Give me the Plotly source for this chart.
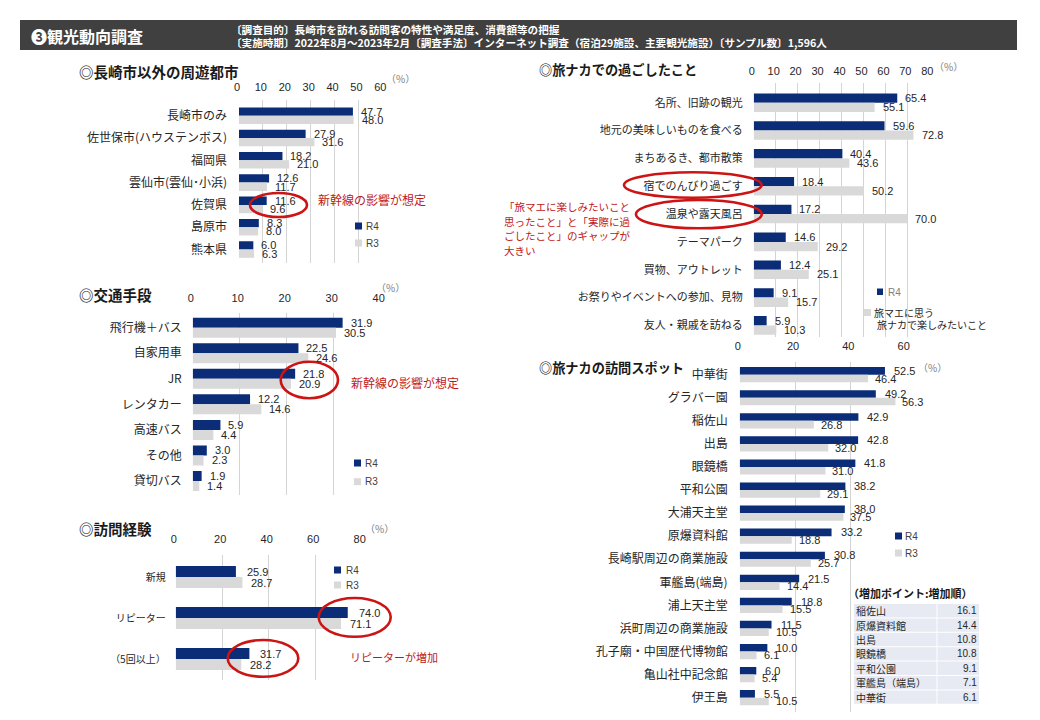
import plotly.graph_objects as go

W, H = 1040, 720
NAVY = "#0B2D78"
GREY = "#D9D9D9"
RED = "#C01818"
TEXT = "#262626"
JP = "Noto Sans CJK JP"
NUM = "Liberation Sans"

# --- data ---
cities = ["長崎市のみ", "佐世保市(ハウステンボス)", "福岡県", "雲仙市(雲仙･小浜)", "佐賀県", "島原市", "熊本県"]
cities_r4 = [47.7, 27.9, 18.2, 12.6, 11.6, 8.3, 6.0]
cities_r3 = [48.0, 31.6, 21.0, 11.7, 9.6, 8.0, 6.3]

transport = ["飛行機＋バス", "自家用車", "JR", "レンタカー", "高速バス", "その他", "貸切バス"]
transport_r4 = [31.9, 22.5, 21.8, 12.2, 5.9, 3.0, 1.9]
transport_r3 = [30.5, 24.6, 20.9, 14.6, 4.4, 2.3, 1.4]

visits = ["新規", "リピーター", "（5回以上）"]
visits_r4 = [25.9, 74.0, 31.7]
visits_r3 = [28.7, 71.1, 28.2]

activities = ["名所、旧跡の観光", "地元の美味しいものを食べる", "まちあるき、都市散策", "宿でのんびり過ごす", "温泉や露天風呂",
              "テーマパーク", "買物、アウトレット", "お祭りやイベントへの参加、見物", "友人・親戚を訪ねる"]
activities_r4 = [65.4, 59.6, 40.4, 18.4, 17.2, 14.6, 12.4, 9.1, 5.9]
activities_r3 = [55.1, 72.8, 43.6, 50.2, 70.0, 29.2, 25.1, 15.7, 10.3]

spots = ["中華街", "グラバー園", "稲佐山", "出島", "眼鏡橋", "平和公園", "大浦天主堂", "原爆資料館", "長崎駅周辺の商業施設",
         "軍艦島(端島)", "浦上天主堂", "浜町周辺の商業施設", "孔子廟・中国歴代博物館", "亀山社中記念館", "伊王島"]
spots_r4 = [52.5, 49.2, 42.9, 42.8, 41.8, 38.2, 38.0, 33.2, 30.8, 21.5, 18.8, 11.5, 10.0, 6.0, 5.5]
spots_r3 = [46.4, 56.3, 26.8, 32.0, 31.0, 29.1, 37.5, 18.8, 25.7, 14.4, 15.5, 10.5, 6.1, 5.4, 10.5]

increase_names = ["稲佐山", "原爆資料館", "出島", "眼鏡橋", "平和公園", "軍艦島（端島）", "中華街"]
increase_vals = ["16.1", "14.4", "10.8", "10.8", "9.1", "7.1", "6.1"]

fig = go.Figure()
shapes, notes = [], []


def px(x):
    return x / W


def py(y):
    return 1 - y / H


def note(x, y, text, size=11, color=TEXT, anchor="left", family=JP, bold=False):
    notes.append(dict(xref="paper", yref="paper", x=px(x), y=py(y), text=f"<b>{text}</b>" if bold else text,
                      showarrow=False, xanchor=anchor, yanchor="middle", borderpad=0,
                      font=dict(size=size, color=color, family=family)))


def rect(x0, y0, x1, y1, fill):
    shapes.append(dict(type="rect", xref="paper", yref="paper", x0=px(x0), x1=px(x1), y0=py(y0), y1=py(y1),
                       fillcolor=fill, line=dict(width=0)))


def ellipse(x0, y0, x1, y1):
    shapes.append(dict(type="circle", xref="paper", yref="paper", x0=px(x0), x1=px(x1), y0=py(y0), y1=py(y1),
                       line=dict(color="#CC1414", width=2.6), fillcolor="rgba(0,0,0,0)"))


def panel(n, cats, r4, r3, left, right, xmax, dtick, top, bottom, c0, pitch, bar, cat_size, cat_off, tick_off,
          shift4, shift3):
    w = bar / pitch
    xa, ya = f"x{n}", f"y{n}"
    fig.add_trace(go.Bar(y=cats, x=r4, name="R4", orientation="h", xaxis=xa, yaxis=ya, width=w, offset=-w,
                         marker=dict(color=NAVY, line=dict(width=0)), showlegend=False))
    fig.add_trace(go.Bar(y=cats, x=r3, name="R3", orientation="h", xaxis=xa, yaxis=ya, width=w, offset=0,
                         marker=dict(color=GREY, line=dict(width=0)), showlegend=False))
    fig.layout[f"xaxis{n}"] = dict(domain=[px(left), px(right)], range=[0, xmax], dtick=dtick, side="top",
                                   anchor=ya, showgrid=True, gridcolor="#D4D4D4", gridwidth=1, zeroline=False,
                                   showline=False, ticks="", ticklabelstandoff=tick_off, ticklabelshift=-2,
                                   automargin=False, tickfont=dict(size=11, color=TEXT, family=NUM))
    fig.layout[f"yaxis{n}"] = dict(domain=[py(bottom), py(top)], range=[(bottom - c0) / pitch, (top - c0) / pitch],
                                   anchor=xa, showgrid=False, zeroline=False, showline=False, ticks="",
                                   ticklabelstandoff=cat_off, type="category", automargin=False,
                                   tickfont=dict(size=cat_size, color=TEXT, family=JP))
    for vals, sgn, shift in ((r4, 1, shift4), (r3, -1, shift3)):
        for c, v in zip(cats, vals):
            notes.append(dict(xref=xa, yref=ya, x=v, y=c, text=f"{v:.1f}", showarrow=False, xanchor="left",
                              yanchor="middle", xshift=shift, yshift=sgn * bar / 2, borderpad=0,
                              font=dict(size=11, color=TEXT, family=NUM)))


panel(1, cities, cities_r4, cities_r3, 239, 382.3, 60, 10, 100, 263, 115.7, 22.3, 8.3, 12, 11, 6, 7, 7)
panel(2, transport, transport_r4, transport_r3, 192.7, 380.7, 40, 10, 313, 495, 327.7, 25.55, 10, 12, 10, 8, 7, 7)
panel(3, visits, visits_r4, visits_r3, 175.7, 361.7, 80, 20, 555, 680, 577, 41, 11, 10, 9, 9, 10, 8)
panel(4, activities, activities_r4, activities_r3, 753.7, 929.3, 80, 10, 83, 337, 102.7, 27.84, 9.3, 11, 10, 5, 7, 7)
panel(5, spots, spots_r4, spots_r3, 739.7, 905.7, 60, 20, 362, 712, 374.7, 23.07, 7.6, 12, 11, 9, 8, 6)

# header
rect(20, 20, 1017, 50, "#404040")
note(30, 36, "❸観光動向調査", 16, "white", bold=True)
note(230, 29.5, "〔調査目的〕長崎市を訪れる訪問客の特性や満足度、消費額等の把握", 10.6, "white", bold=True)
note(230, 42, "〔実施時期〕2022年8月～2023年2月〔調査手法〕インターネット調査（宿泊29施設、主要観光施設）〔サンプル数〕1,596人", 10.6, "white", bold=True)

# section titles
note(78, 71.7, "◎長崎市以外の周遊都市", 14.5, "#1a1a1a", bold=True)
note(78, 294, "◎交通手段", 14.5, "#1a1a1a", bold=True)
note(78, 528, "◎訪問経験", 14.5, "#1a1a1a", bold=True)
note(538, 69, "◎旅ナカでの過ごしたこと", 13.2, "#1a1a1a", bold=True)
note(538, 367, "◎旅ナカの訪問スポット", 13.2, "#1a1a1a", bold=True)

# percent labels
for x, y in [(400, 78), (390, 287), (379, 528), (948, 66), (932, 367)]:
    note(x, y, "（%）", 10, "#7F7F7F", anchor="center")


def legend(x, y4, y3, text_x):
    rect(x, y4 - 3.5, x + 7, y4 + 3.5, NAVY)
    rect(x, y3 - 3.5, x + 7, y3 + 3.5, GREY)
    note(text_x, y4, "R4", 10, "#404040", family=NUM)
    note(text_x, y3, "R3", 10, "#404040", family=NUM)


legend(355, 226, 243, 365)
legend(354, 463, 481.7, 364)
legend(334, 570, 585, 345)
legend(895, 536, 553, 904)
# activities legend
rect(877, 288.5, 883, 295, NAVY)
note(887, 292, "R4", 10, "#808080", family=NUM)
rect(864, 309, 871, 316, GREY)
note(873, 312, "旅マエに思う", 10, "#262626")
note(876, 325, "旅ナカで楽しみたいこと", 10, "#262626")

# call-outs
for box in [(250, 193, 307, 217), (280.7, 361.7, 338, 398.3), (318.7, 598, 390.7, 636.7), (227.7, 640, 298.3, 676.7),
            (624, 172.3, 761.7, 197.7), (636, 200, 761.7, 228.3)]:
    ellipse(*box)
note(317, 199, "新幹線の影響が想定", 12, RED)
note(350, 382.7, "新幹線の影響が想定", 12, RED)
note(349, 656.7, "リピーターが増加", 11, RED)
for i, line in enumerate(["「旅マエに楽しみたいこと", "思ったこと」と「実際に過", "ごしたこと」のギャップが", "大きい"]):
    note(503, 206.7 + i * 14.6, line, 10.5, RED)

# increase table
note(847, 593, "（増加ポイント:増加順）", 11, "#1a1a1a", bold=True)
row_top, row_h = 603.5, 14.4
for i, (name, val) in enumerate(zip(increase_names, increase_vals)):
    y0 = row_top + i * row_h
    rect(854, y0 + 0.5, 936.5, y0 + row_h - 0.5, "#E7EAF3")
    rect(937.5, y0 + 0.5, 979, y0 + row_h - 0.5, "#E7EAF3")
    note(855, y0 + row_h / 2, name, 10, TEXT)
    note(978, y0 + row_h / 2, val, 10, TEXT, anchor="right", family=NUM)

fig.update_layout(width=W, height=H, margin=dict(l=0, r=0, t=0, b=0), paper_bgcolor="white", plot_bgcolor="white",
                  barmode="overlay", showlegend=False, shapes=shapes, annotations=notes, font=dict(family=JP))

fig.write_html("out.html", config=dict(displayModeBar=False),
               post_script="document.body.style.margin='0';document.body.style.overflow='hidden';")
